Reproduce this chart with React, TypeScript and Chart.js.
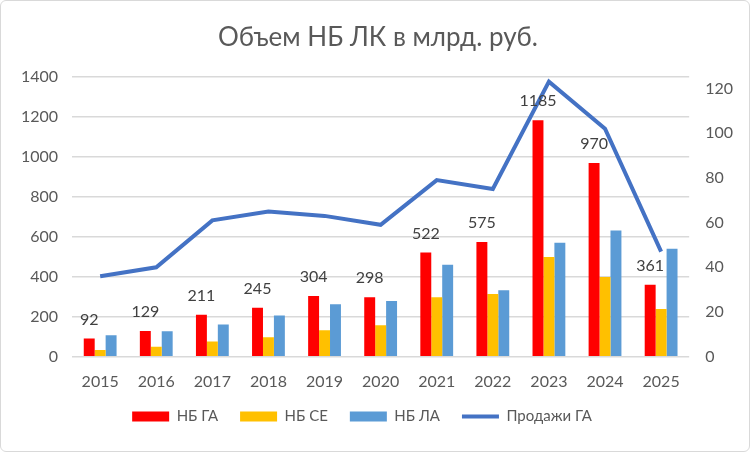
import { useEffect, useRef } from "react";
import { Chart, registerables } from "chart.js";

Chart.register(...registerables);

const years = ["2015", "2016", "2017", "2018", "2019", "2020", "2021", "2022", "2023", "2024", "2025"];
const nbGA = [92, 129, 211, 245, 304, 298, 522, 575, 1185, 970, 361];
const nbCE = [34, 50, 77, 98, 133, 158, 298, 315, 500, 399, 239];
const nbLA = [108, 128, 162, 207, 263, 280, 461, 333, 571, 632, 541];
const salesGA = [36, 40, 61, 65, 63, 59, 79, 75, 123, 102, 47];
const rightTicks = [0, 20, 40, 60, 80, 100, 120];

const FONT = "Lato, 'Open Sans', sans-serif";
const TEXT = "#595959";

// подписи над красными столбиками
const redLabels = {
  id: "redLabels",
  afterDatasetsDraw(chart: any) {
    const ctx = chart.ctx;
    const meta = chart.getDatasetMeta(0);
    ctx.save();
    ctx.font = `16px ${FONT}`;
    ctx.fillStyle = "#404040";
    ctx.textAlign = "center";
    ctx.textBaseline = "middle";
    meta.data.forEach((bar: any, i: number) => {
      ctx.fillText(String(nbGA[i]), bar.x, bar.y - 19);
    });
    ctx.restore();
  },
};

// легенда в Excel стоит чуть левее и выше
const shiftLegend = {
  id: "shiftLegend",
  afterLayout(chart: any) {
    const lg = chart.legend;
    if (!lg) return;
    lg.left -= 16;
    lg.right -= 16;
    lg.top -= 11;
    lg.bottom -= 11;
  },
};

const App = () => {
  const chartRef = useRef<HTMLCanvasElement>(null);

  useEffect(() => {
    const ctx = chartRef.current!.getContext("2d")!;
    const myChart = new Chart(ctx, {
      type: "bar",
      data: {
        labels: years,
        datasets: [
          {
            label: "НБ ГА",
            data: nbGA,
            backgroundColor: "#FF0000",
            yAxisID: "y",
            order: 2,
            pointStyle: "rect",
          },
          {
            label: "НБ СЕ",
            data: nbCE,
            backgroundColor: "#FFC000",
            yAxisID: "y",
            order: 2,
            pointStyle: "rect",
          },
          {
            label: "НБ ЛА",
            data: nbLA,
            backgroundColor: "#5B9BD5",
            yAxisID: "y",
            order: 2,
            pointStyle: "rect",
          },
          {
            type: "line",
            label: "Продажи ГА",
            data: salesGA,
            borderColor: "#4472C4",
            backgroundColor: "#4472C4",
            borderWidth: 4,
            pointRadius: 0,
            pointStyle: "line",
            tension: 0,
            yAxisID: "y2",
            order: 1,
          } as any,
        ],
      },
      options: {
        responsive: false,
        animation: false,
        layout: { padding: { left: 6, right: 0, top: 8, bottom: 6 } },
        datasets: {
          bar: { barPercentage: 1, categoryPercentage: 0.585 },
        },
        scales: {
          x: {
            grid: { display: false },
            border: { display: false },
            ticks: { color: TEXT, font: { family: FONT, size: 16 }, padding: 7 },
          },
          y: {
            position: "left",
            min: 0,
            max: 1400,
            ticks: {
              stepSize: 200,
              color: TEXT,
              font: { family: FONT, size: 16 },
              padding: 14,
              callback: (v: any) => String(v),
            },
            grid: { color: "#d9d9d9", lineWidth: 1.5, drawTicks: false },
            border: { display: false },
          },
          y2: {
            position: "right",
            min: 0,
            max: 125,
            afterBuildTicks: (axis: any) => {
              axis.ticks = rightTicks.map((v) => ({ value: v }));
            },
            ticks: {
              autoSkip: false,
              color: TEXT,
              font: { family: FONT, size: 16 },
              padding: 16,
              callback: (v: any) => String(v),
            },
            grid: { display: false, drawTicks: false },
            border: { display: false },
          },
        },
        plugins: {
          title: {
            display: true,
            text: "Объем НБ ЛК в млрд. руб.",
            color: TEXT,
            font: { family: FONT, size: 26, weight: "normal" },
            padding: { top: 13, bottom: 24 },
          },
          legend: {
            position: "bottom",
            labels: {
              usePointStyle: true,
              pointStyleWidth: 37,
              boxHeight: 10,
              padding: 22,
              color: TEXT,
              font: { family: FONT, size: 15 },
              sort: (a: any, b: any) => a.datasetIndex - b.datasetIndex,
            },
          },
          tooltip: { enabled: false },
        },
      },
      plugins: [redLabels, shiftLegend],
    });

    return () => {
      myChart.destroy();
    };
  }, []);

  return (
    <div
      style={{
        position: "fixed",
        left: 0,
        top: 0,
        width: 750,
        height: 452,
        boxSizing: "border-box",
        border: "1px solid #d9d9d9",
        borderRadius: 6,
        background: "#fff",
        overflow: "hidden",
      }}
    >
      <canvas ref={chartRef} width={748} height={450} />
    </div>
  );
};

export default App;
